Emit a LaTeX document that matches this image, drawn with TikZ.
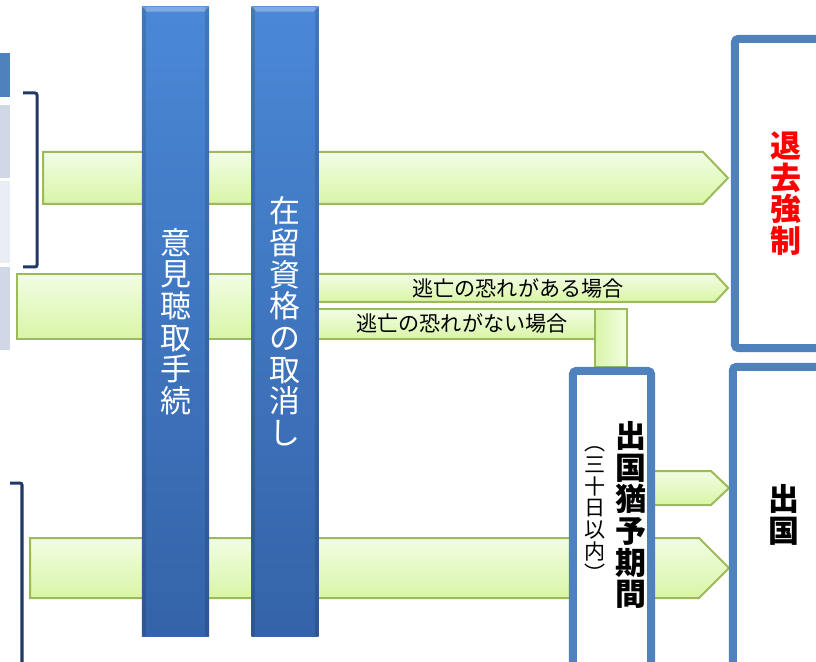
\documentclass[tikz,border=0pt]{standalone}
\usepackage{fontspec}
\setmainfont{Noto Sans CJK JP}
\usepackage{tikz}
\usetikzlibrary{positioning}
\definecolor{barblue}{HTML}{4A88D6}
\definecolor{bardark}{HTML}{3463A8}
\definecolor{frameblue}{HTML}{4F81BD}
\definecolor{greenline}{HTML}{9BBB59}
\definecolor{greentop}{HTML}{F2FDE4}
\definecolor{greenbot}{HTML}{D9F5A6}
\definecolor{bracketnavy}{HTML}{1F3864}
\definecolor{cellhead}{HTML}{4F81BD}
\definecolor{cellone}{HTML}{D0D8E8}
\definecolor{celltwo}{HTML}{E9EDF4}

\begin{document}
\begin{tikzpicture}[x=0.025cm, y=-0.025cm,
    bluebar/.style={rectangle, top color=barblue, bottom color=bardark, minimum width=1.675cm, minimum height=15.725cm, inner sep=0pt, align=center, text=white, font=\fontsize{22}{22.5}\selectfont},
    greenbody/.style={draw=greenline, line width=0.05cm, top color=greentop, bottom color=greenbot},
    outbox/.style={rectangle, draw=frameblue, line width=0.2cm, rounded corners=0.08cm, fill=white},
    bigtext/.style={align=center, inner sep=0pt, font=\bfseries\fontsize{22}{22.5}\selectfont},
    casetext/.style={inner sep=0pt, font=\fontsize{15}{16}\selectfont},
    bracket/.style={draw=bracketnavy, line width=0.075cm, rounded corners=0.05cm}
]
\useasboundingbox (0,0) rectangle (816,662);
\clip (0,0) rectangle (816,662);

% table cut off at the left edge
\fill[cellhead] (-20,53) rectangle (10,97);
\fill[cellone] (-20,105) rectangle (10,178);
\fill[celltwo] (-20,181) rectangle (10,263);
\fill[cellone] (-20,267) rectangle (10,350);

\draw[bracket] (23,93) -- (37,93) -- (37,267) -- (23,267);
\draw[bracket] (10,483) -- (22,483) -- (22,680);

% green flow arrows
\draw[greenbody] (43,152) -- (703,152) -- (728,178) -- (703,204) -- (43,204) -- cycle;
\draw[greenbody] (17,274) rectangle (300,339);
\draw[greenbody] (290,274) -- (715,274) -- (728,288) -- (715,302) -- (290,302);
\draw[greenbody] (290,309) -- (595,309) -- (595,339) -- (290,339);
\draw[greenbody, left color=greenbot, right color=greentop] (595,309) rectangle (627,367);
\draw[greenbody] (640,471) -- (711,471) -- (729,488) -- (711,505) -- (640,505);
\draw[greenbody] (30,538) -- (699,538) -- (729,568) -- (699,598) -- (30,598) -- cycle;

\node[casetext] (flee) at (518,288) {逃亡の恐れがある場合};
\node[casetext] (noflee) at (462,323) {逃亡の恐れがない場合};

% procedure bars
\node[bluebar] (hearing) at (175.5,321.5) {意\\見\\聴\\取\\手\\続};
\node[bluebar] (revoke) at (285,321.5) {在\\留\\資\\格\\の\\取\\消\\し};
\foreach \barname in {hearing, revoke} {
  \fill[white, opacity=0.3] (\barname.north west) -- (\barname.north east)
    -- ([xshift=-0.125cm, yshift=-0.125cm]\barname.north east)
    -- ([xshift=0.125cm, yshift=-0.125cm]\barname.north west) -- cycle;
  \fill[black, opacity=0.12] (\barname.north west) rectangle ([xshift=0.1cm]\barname.south west);
  \fill[black, opacity=0.12] ([xshift=-0.1cm]\barname.north east) rectangle (\barname.south east);
}

% outcome boxes
\node[outbox, minimum width=2.525cm, minimum height=7.725cm, bigtext, text=red] (removal) at (785.5,193.5) {退\\去\\強\\制};
\node[outbox, minimum width=2.575cm, minimum height=8.325cm] (departure) at (784.5,533.5) {};
\node[bigtext] (departtext) at (784,515) {出\\国};
\node[outbox, minimum width=1.95cm, minimum height=8.225cm] (grace) at (612,535.5) {};
\node[bigtext] (gracetext) at (631,515) {出\\国\\猶\\予\\期\\間};
\node[align=center, inner sep=0pt, font=\fontsize{15}{15.5}\selectfont] (gracedays) at (595,514) {︵\\三\\十\\日\\以\\内\\︶};

\end{tikzpicture}
\end{document}
